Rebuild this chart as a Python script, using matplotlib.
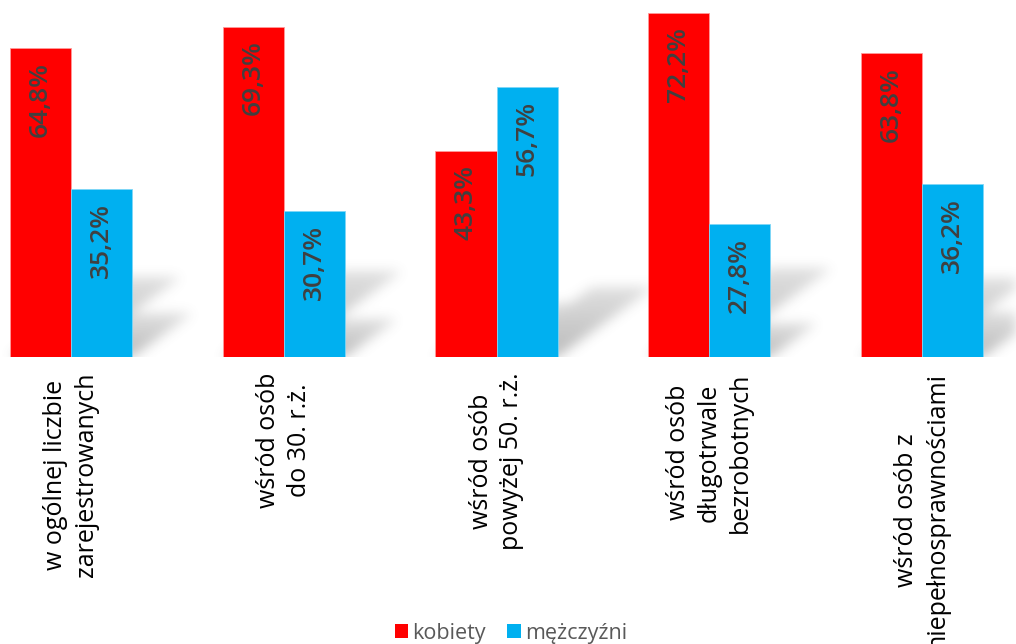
import numpy as np
import matplotlib
matplotlib.use("Agg")
import matplotlib.pyplot as plt
from matplotlib.path import Path

# ---------------- data ----------------
categories = [
    "w ogólnej liczbie\nzarejestrowanych",
    "wśród osób\ndo 30. r.ż.",
    "wśród osób\npowyżej 50. r.ż.",
    "wśród osób\ndługotrwale\nbezrobotnych",
    "wśród osób z\nniepełnosprawnościami",
]
kobiety = [64.8, 69.3, 43.3, 72.2, 63.8]
mezczyzni = [35.2, 30.7, 56.7, 27.8, 36.2]
series_names = ["kobiety", "mężczyźni"]
value_labels_k = ["64,8%", "69,3%", "43,3%", "72,2%", "63,8%"]
value_labels_m = ["35,2%", "30,7%", "56,7%", "27,8%", "36,2%"]

# ---------------- style ----------------
RED = "#FF0000"
CYAN = "#00B0F0"
W, H = 1016, 644
DPI = 100
plt.rcParams['font.family'] = ['Open Sans', 'DejaVu Sans']

fig = plt.figure(figsize=(W / DPI, H / DPI), dpi=DPI)
ax_bottom_px = 357
ax = fig.add_axes([0, (H - ax_bottom_px) / H, 1, ax_bottom_px / H])

xlim = (-0.334, 4.442)
ylim = (0, 74.9)
ax.set_xlim(*xlim)
ax.set_ylim(*ylim)

x = np.arange(len(categories))
bw = 0.287

b1 = ax.bar(x - bw / 2, kobiety, bw, color=RED, label=series_names[0], zorder=3,
            edgecolor="#ff9a9a", linewidth=0.6)
b2 = ax.bar(x + bw / 2, mezczyzni, bw, color=CYAN, label=series_names[1], zorder=3,
            edgecolor="#7fd6f6", linewidth=0.6)

# ---------------- soft perspective shadows (computed from bar data) ----------------
gw, gh = W, ax_bottom_px
gx = xlim[0] + (np.arange(gw) + 0.5) / gw * (xlim[1] - xlim[0])
gy = ylim[0] + (np.arange(gh) + 0.5) / gh * (ylim[1] - ylim[0])
GX, GY = np.meshgrid(gx, gy)
pts = np.column_stack([GX.ravel(), GY.ravel()])
shadow = np.zeros(GX.size)
dx_per = 0.0080   # horizontal shift per unit of value (categories)
dy_per = 0.26     # vertical shift per unit of value
for xs, vals in ((x - bw / 2, kobiety), (x + bw / 2, mezczyzni)):
    for xc, v in zip(xs, vals):
        l, r = xc - bw / 2, xc + bw / 2
        dx, dy = v * dx_per, v * dy_per
        poly = Path([(l, 0), (r, 0), (r + dx, dy), (l + dx, dy), (l, 0)])
        inside = poly.contains_points(pts)
        t = np.clip(pts[:, 1] / dy, 0, 1)
        val = inside * (1.0 - 0.55 * t)
        shadow = np.maximum(shadow, val)
shadow = shadow.reshape(GX.shape)

def gauss_blur(img, sigma):
    rad = int(3 * sigma)
    k = np.exp(-0.5 * (np.arange(-rad, rad + 1) / sigma) ** 2)
    k /= k.sum()
    pad = np.pad(img, rad, mode="constant")
    tmp = np.apply_along_axis(lambda m: np.convolve(m, k, mode="valid"), 1, pad)
    out = np.apply_along_axis(lambda m: np.convolve(m, k, mode="valid"), 0, tmp)
    return out

shadow = gauss_blur(shadow, 6)
rgba = np.zeros(shadow.shape + (4,))
rgba[..., :3] = 0.35
rgba[..., 3] = shadow * 0.42
ax.imshow(rgba, extent=(xlim[0], xlim[1], ylim[0], ylim[1]), origin="lower",
          aspect="auto", zorder=1, interpolation="bilinear")

# ---------------- value labels ----------------
for bars, labs in ((b1, value_labels_k), (b2, value_labels_m)):
    for rect, lab in zip(bars, labs):
        ax.annotate(lab, (rect.get_x() + rect.get_width() / 2, rect.get_height()),
                    xytext=(0, -10), textcoords="offset points", rotation=90,
                    ha="center", va="top", fontsize=19, fontweight="semibold",
                    color="#404040", zorder=4)

# ---------------- axes ----------------
ax.set_xticks(x)
ax.set_xticklabels(categories, rotation=90, ha="center", va="top",
                   multialignment="center", fontsize=18, color="#000000",
                   linespacing=1.3)
ax.tick_params(axis="x", length=0, pad=11)
ax.set_yticks([])
for s in ax.spines.values():
    s.set_visible(False)
ax.patch.set_alpha(0)

# ---------------- legend ----------------
leg = fig.legend(handles=[b1, b2], labels=series_names, loc="lower center",
                 bbox_to_anchor=(0.503, -0.03), ncol=2, frameon=False,
                 fontsize=15.5, handlelength=0.62, handleheight=0.62,
                 handletextpad=0.2, columnspacing=1.0, labelcolor="#595959")
for h in leg.legend_handles:
    h.set_edgecolor("none")

fig.savefig("out.png", dpi=DPI)
